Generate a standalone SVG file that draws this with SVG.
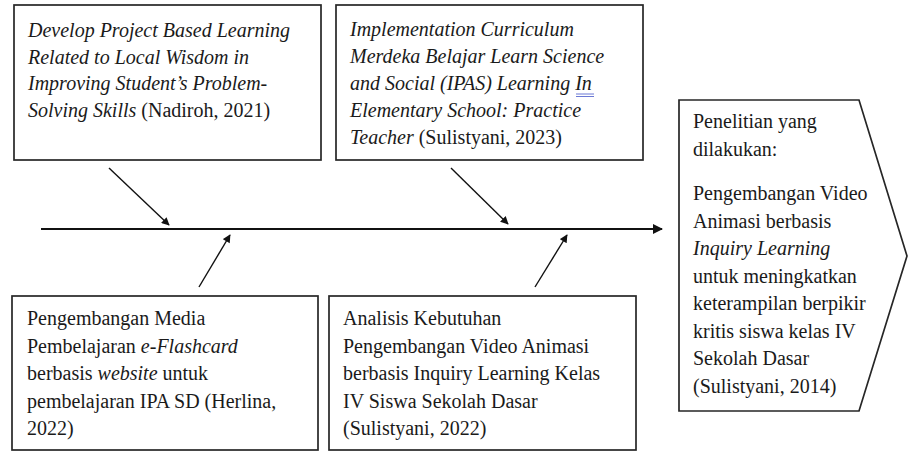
<svg xmlns="http://www.w3.org/2000/svg" width="909" height="452" viewBox="0 0 909 452">
<style>
  .box { fill: #ffffff; stroke: #262626; stroke-width: 1.7; }
  .t { font-family: "Liberation Serif", "Times New Roman", serif; font-size: 20px; fill: #1a1a1a; }
  .i { font-style: italic; }
  .conn { stroke: #111111; stroke-width: 1.4; fill: none; }
  .spine { stroke: #111111; stroke-width: 2.2; fill: none; }
  .ul { stroke: #5a6ad0; stroke-width: 0.9; }
</style>
<defs>
  <marker id="ah" viewBox="0 0 10 10" refX="9" refY="5" markerWidth="9" markerHeight="8" markerUnits="userSpaceOnUse" orient="auto">
    <path d="M0,0 L10,5 L0,10 z" fill="#111111"/>
  </marker>
  <marker id="ahs" viewBox="0 0 10 10" refX="9" refY="5" markerWidth="11" markerHeight="10" markerUnits="userSpaceOnUse" orient="auto">
    <path d="M0,0 L10,5 L0,10 z" fill="#111111"/>
  </marker>
</defs>

<g id="node-nadiroh">
  <rect class="box" x="14" y="5" width="307" height="155"/>
  <text class="t i" x="28" y="37">Develop Project Based Learning</text>
  <text class="t i" x="28" y="63.5">Related to Local Wisdom in</text>
  <text class="t i" x="28" y="90">Improving Student’s Problem-</text>
  <text class="t" x="28" y="116.5"><tspan class="i">Solving Skills</tspan> (Nadiroh, 2021)</text>
</g>

<g id="node-sulistyani2023">
  <rect class="box" x="336" y="5" width="307" height="155"/>
  <text class="t i" x="350" y="36">Implementation Curriculum</text>
  <text class="t i" x="350" y="63">Merdeka Belajar Learn Science</text>
  <text class="t i" x="350" y="90">and Social (IPAS) Learning In</text>
  <line class="ul" x1="576" y1="94" x2="594" y2="94"/>
  <line class="ul" x1="576" y1="96.5" x2="594" y2="96.5"/>
  <text class="t i" x="350" y="117">Elementary School: Practice</text>
  <text class="t" x="350" y="144"><tspan class="i">Teacher</tspan> (Sulistyani, 2023)</text>
</g>

<g id="node-penelitian">
  <path class="box" d="M679,100 L859,100 L907,256 L859,411 L679,411 Z"/>
  <text class="t" x="693" y="128">Penelitian yang</text>
  <text class="t" x="693" y="155.5">dilakukan:</text>
  <text class="t" x="693" y="200">Pengembangan Video</text>
  <text class="t" x="693" y="227.5">Animasi berbasis</text>
  <text class="t i" x="693" y="255">Inquiry Learning</text>
  <text class="t" x="693" y="282.5">untuk meningkatkan</text>
  <text class="t" x="693" y="310">keterampilan berpikir</text>
  <text class="t" x="693" y="337.5">kritis siswa kelas IV</text>
  <text class="t" x="693" y="365">Sekolah Dasar</text>
  <text class="t" x="693" y="392.5">(Sulistyani, 2014)</text>
</g>

<g id="node-herlina">
  <rect class="box" x="12" y="296" width="306" height="154"/>
  <text class="t" x="27" y="325">Pengembangan Media</text>
  <text class="t" x="27" y="352.5">Pembelajaran <tspan class="i">e-Flashcard</tspan></text>
  <text class="t" x="27" y="380">berbasis <tspan class="i">website</tspan> untuk</text>
  <text class="t" x="27" y="407.5">pembelajaran IPA SD (Herlina,</text>
  <text class="t" x="27" y="435">2022)</text>
</g>

<g id="node-sulistyani2022">
  <rect class="box" x="329" y="296" width="307" height="154"/>
  <text class="t" x="343" y="325">Analisis Kebutuhan</text>
  <text class="t" x="343" y="352.5">Pengembangan Video Animasi</text>
  <text class="t" x="343" y="380">berbasis Inquiry Learning Kelas</text>
  <text class="t" x="343" y="407.5">IV Siswa Sekolah Dasar</text>
  <text class="t" x="343" y="435">(Sulistyani, 2022)</text>
</g>

<g id="connectors">
  <line class="spine" x1="41" y1="229" x2="662" y2="229" marker-end="url(#ahs)"/>
  <line class="conn" x1="109" y1="168" x2="169" y2="225" marker-end="url(#ah)"/>
  <line class="conn" x1="451" y1="168" x2="508" y2="224" marker-end="url(#ah)"/>
  <line class="conn" x1="199" y1="287" x2="230" y2="235" marker-end="url(#ah)"/>
  <line class="conn" x1="535" y1="287" x2="567" y2="235" marker-end="url(#ah)"/>
</g>
</svg>
